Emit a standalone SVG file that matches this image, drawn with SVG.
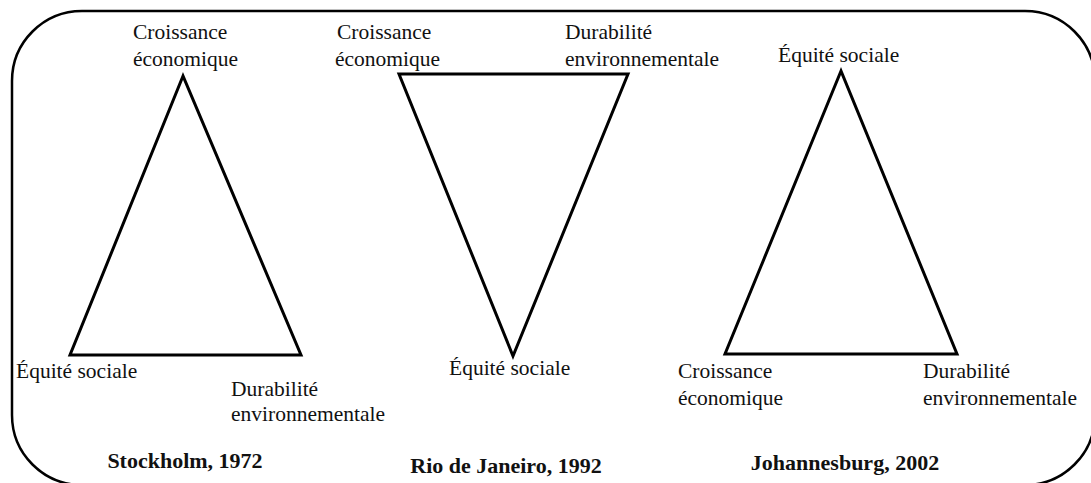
<svg xmlns="http://www.w3.org/2000/svg" width="1091" height="483" viewBox="0 0 1091 483">
<style>
.t{font-family:"Liberation Serif","Times New Roman",serif;font-size:21.5px;fill:#111}
.b{font-family:"Liberation Serif","Times New Roman",serif;font-size:22px;font-weight:bold;fill:#111;text-anchor:middle}
.tri{fill:none;stroke:#000;stroke-width:3;stroke-linejoin:miter}
.frame{fill:none;stroke:#000;stroke-width:2.5}
</style>
<rect id="frame" class="frame" x="12" y="11" width="1083" height="474" rx="70" ry="70"/>
<g id="stockholm">
<polygon class="tri" points="183,76 70,355 301,355"/>
<text class="t" x="133" y="39">Croissance</text>
<text class="t" x="133" y="66">économique</text>
<text class="t" x="16" y="378">Équité sociale</text>
<text class="t" x="231" y="396">Durabilité</text>
<text class="t" x="231" y="421">environnementale</text>
<text class="b" x="185" y="468">Stockholm, 1972</text>
</g>
<g id="rio">
<polygon class="tri" points="399,74 628,74 513,356"/>
<text class="t" x="337" y="39">Croissance</text>
<text class="t" x="335" y="66">économique</text>
<text class="t" x="565" y="39">Durabilité</text>
<text class="t" x="565" y="66">environnementale</text>
<text class="t" x="449" y="375">Équité sociale</text>
<text class="b" x="506" y="473">Rio de Janeiro, 1992</text>
</g>
<g id="johannesburg">
<polygon class="tri" points="841,71 725,354 957,354"/>
<text class="t" x="778" y="62">Équité sociale</text>
<text class="t" x="678" y="378">Croissance</text>
<text class="t" x="678" y="405">économique</text>
<text class="t" x="923" y="378">Durabilité</text>
<text class="t" x="923" y="405">environnementale</text>
<text class="b" x="845" y="470">Johannesburg, 2002</text>
</g>
<g id="connectors"></g>
</svg>
